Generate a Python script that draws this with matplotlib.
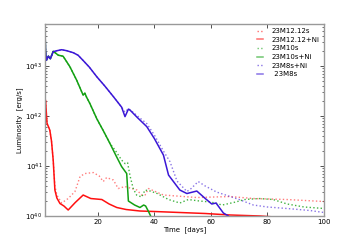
import numpy as np
import matplotlib
matplotlib.use('Agg')
import matplotlib.pyplot as plt

# light curves (time in days, log10 L in erg/s)
t_m12s = [1.3, 1.5, 2.0, 3.0, 3.6, 4.2, 4.8, 5.5, 7.2, 9.5, 11.9, 13.7, 15.4, 18.4, 20.5, 21.9,
          23.1, 25.5, 27.2, 29.6, 33.8, 35.5, 36.7, 37.9, 43.2, 55.0, 66.8, 75.0, 86.9, 100.0]
logL_m12s = [41.9, 42.32, 41.86, 41.72, 41.5, 41.12, 40.6, 40.42, 40.26, 40.35, 40.49, 40.79, 40.85,
             40.87, 40.8, 40.69, 40.77, 40.72, 40.55, 40.59, 40.52, 40.42, 40.42, 40.55, 40.42, 40.37,
             40.39, 40.35, 40.33, 40.29]

t_m12ni = [1.3, 1.5, 2.0, 3.0, 3.6, 4.2, 4.8, 5.5, 6.6, 8.0, 9.5, 12.0, 14.8, 17.5, 21.4, 24.0,
           26.7, 30.0, 34.9, 40.0, 49.0, 58.0, 66.8, 77.4, 85.0]
logL_m12ni = [41.9, 42.32, 41.86, 41.72, 41.5, 41.12, 40.52, 40.36, 40.25, 40.2, 40.12, 40.27, 40.42,
              40.35, 40.33, 40.24, 40.17, 40.13, 40.1, 40.09, 40.07, 40.05, 40.02, 40.0, 39.97]

t_m10s = [1.3, 1.5, 1.8, 2.5, 3.2, 4.2, 6.0, 7.7, 10.1, 12.5, 14.8, 15.4, 16.0, 17.2, 19.6, 22.0,
          24.3, 26.1, 28.4, 29.6, 30.5, 31.4, 32.5, 33.7, 35.5, 36.7, 38.5, 41.0, 45.0, 49.0, 52.0,
          56.0, 60.0, 64.0, 68.0, 72.0, 77.0, 82.0, 87.0, 93.0, 100.0]
logL_m10s = [43.72, 43.3, 43.12, 43.2, 43.15, 43.3, 43.22, 43.2, 42.99, 42.72, 42.42, 42.46, 42.38,
             42.25, 41.95, 41.7, 41.45, 41.32, 41.12, 41.05, 41.07, 40.8, 40.55, 40.42, 40.38, 40.52,
             40.5, 40.45, 40.33, 40.26, 40.33, 40.3, 40.28, 40.22, 40.27, 40.33, 40.35, 40.33, 40.24,
             40.18, 40.15]

t_m10ni = [1.3, 1.5, 1.8, 2.5, 3.2, 4.2, 6.0, 7.7, 10.1, 12.5, 14.8, 15.4, 16.0, 17.2, 19.6, 22.0,
           24.3, 26.5, 28.4, 30.2, 30.8, 33.0, 34.9, 36.2, 36.9, 38.0, 39.1]
logL_m10ni = [43.72, 43.3, 43.12, 43.2, 43.15, 43.3, 43.22, 43.2, 42.99, 42.72, 42.42, 42.46, 42.38,
              42.25, 41.95, 41.7, 41.45, 41.2, 40.99, 40.85, 40.3, 40.22, 40.17, 40.22, 40.2, 40.08,
              39.95]

t_m8ni = [1.3, 1.5, 1.8, 2.5, 3.2, 4.2, 5.5, 7.2, 9.0, 11.3, 13.0, 14.7, 17.0, 19.6, 22.5, 25.5,
          28.4, 29.6, 30.8, 32.0, 34.5, 37.3, 40.0, 43.2, 45.5, 48.0, 51.5, 53.0, 55.5, 58.0, 62.0,
          66.8, 70.0, 75.0, 80.0, 87.0, 95.0, 100.0]
logL_m8ni = [43.72, 43.3, 43.12, 43.2, 43.15, 43.29, 43.31, 43.33, 43.31, 43.27, 43.22, 43.12, 42.98,
             42.79, 42.6, 42.39, 42.18, 42.08, 42.15, 42.1, 41.98, 41.85, 41.62, 41.3, 41.09, 40.7,
             40.49, 40.55, 40.69, 40.6, 40.48, 40.39, 40.33, 40.22, 40.18, 40.15, 40.11, 40.07]

t_m8s = [1.3, 1.5, 1.8, 2.5, 3.2, 4.2, 5.5, 7.2, 9.0, 11.3, 13.0, 14.7, 17.0, 19.6, 22.5, 25.5,
         28.4, 29.6, 30.8, 31.4, 34.0, 37.3, 40.0, 43.2, 45.0, 49.0, 51.5, 55.0, 58.0, 60.3, 61.8,
         64.4, 66.2, 67.0]
logL_m8s = [43.72, 43.3, 43.12, 43.2, 43.15, 43.29, 43.31, 43.33, 43.31, 43.27, 43.22, 43.12, 42.98,
            42.79, 42.6, 42.39, 42.18, 41.99, 42.14, 42.12, 41.97, 41.79, 41.55, 41.22, 40.82, 40.52,
            40.45, 40.5, 40.35, 40.24, 40.26, 40.06, 40.0, 39.95]

red = '#ff1010'
green = '#12a012'
blue = '#3a16d6'

plt.rcParams['font.size'] = 5
fig = plt.figure(figsize=(3.6, 2.4), dpi=100)
ax = fig.add_axes([0.125, 0.1, 0.775, 0.8])

ax.plot(t_m12s, np.power(10.0, logL_m12s), ':', color=red, alpha=0.55, lw=1.0, label='23M12.12s')
ax.plot(t_m12ni, np.power(10.0, logL_m12ni), '-', color=red, lw=1.1, label='23M12.12+Ni')
ax.plot(t_m10s, np.power(10.0, logL_m10s), ':', color=green, alpha=0.8, lw=1.0, label='23M10s')
ax.plot(t_m10ni, np.power(10.0, logL_m10ni), '-', color=green, lw=1.1, label='23M10s+Ni')
ax.plot(t_m8ni, np.power(10.0, logL_m8ni), ':', color=blue, alpha=0.6, lw=1.0, label='23M8s+Ni')
ax.plot(t_m8s, np.power(10.0, logL_m8s), '-', color=blue, lw=1.1, label=' 23M8s')

ax.set_yscale('log')
ax.set_xlim(1.3, 100)
ax.set_ylim(1e40, 7e43)
ax.set_xticks([20, 40, 60, 80, 100])
ax.set_xlabel('Time  [days]', labelpad=1)
ax.set_ylabel('Luminosity  [erg/s]', labelpad=2)

ax.tick_params(which='both', direction='in', top=True, right=True, colors='#333333',
               labelcolor='black', labelsize=5, pad=2)
ax.tick_params(which='major', length=3, width=0.6)
ax.tick_params(which='minor', length=1.5, width=0.5)
for s in ax.spines.values():
    s.set_color('#999999')
    s.set_linewidth(1.0)

leg = ax.legend(loc='upper right', frameon=False, fontsize=5, handlelength=0.9,
                handletextpad=1.3, labelspacing=0.38, borderaxespad=0.2)
for h in leg.legend_handles:
    h.set_alpha(0.6)

fig.savefig('out.png', dpi=100)
